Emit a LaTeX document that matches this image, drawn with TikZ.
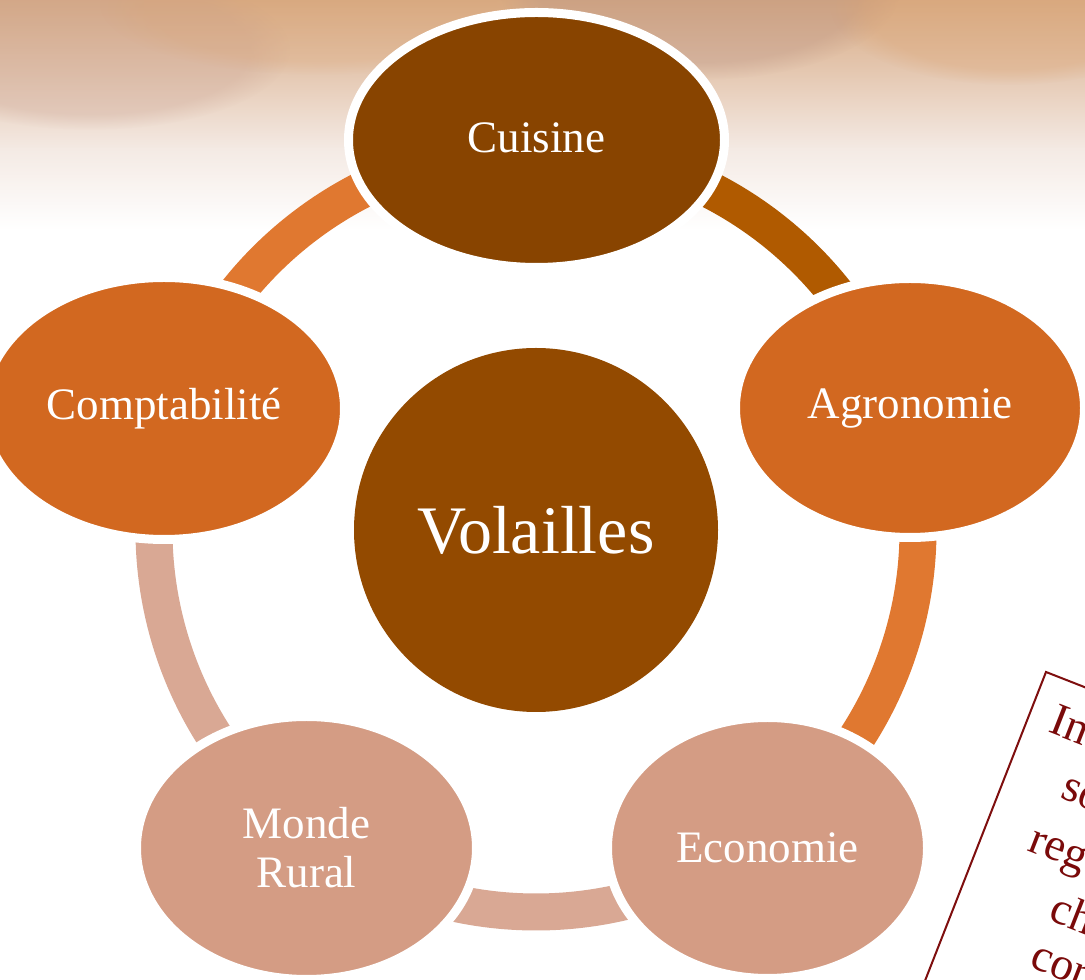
\documentclass[tikz,border=0pt]{standalone}
\usepackage{fontspec}
\setmainfont{Liberation Serif}
\usetikzlibrary{shapes.geometric,fadings}
\definecolor{bgA}{HTML}{D8AB84}
\definecolor{bgB}{HTML}{E6CBB6}
\definecolor{bgC}{HTML}{F4EAE4}
\definecolor{bgD}{HTML}{B89080}
\definecolor{bgE}{HTML}{C8A090}
\definecolor{bgF}{HTML}{DBA474}
\definecolor{cuisC}{HTML}{884400}
\definecolor{volC}{HTML}{934A00}
\definecolor{orC}{HTML}{D26820}
\definecolor{paleC}{HTML}{D49C84}
\definecolor{arcA}{HTML}{B05A00}
\definecolor{arcB}{HTML}{E07830}
\definecolor{arcC}{HTML}{D9A894}
\definecolor{boxred}{HTML}{7E0E0E}
\definecolor{txtred}{HTML}{7A0A0A}
\tikzset{
  bubble/.style={ellipse, draw=white, line width=9pt, inner sep=0pt, text=white,
    font=\fontsize{45}{49}\selectfont, align=center},
  ringarc/.style={line width=37pt},
  boxtext/.style={anchor=base west, text=txtred, font=\fontsize{46}{50}\selectfont, transform shape, inner sep=0pt},
  blob/.style={path fading=circle with fuzzy edge 20 percent},
}
\begin{document}
\begin{tikzpicture}[x=1pt,y=1pt]
\useasboundingbox (0,0) rectangle (1085,980);
\clip (0,0) rectangle (1085,980);
\fill[white] (0,0) rectangle (1085,980);
% blurred photo strip at the top
\shade[top color=bgA, bottom color=bgB] (0,981) rectangle (1085,900);
\shade[top color=bgB, bottom color=bgC] (0,901) rectangle (1085,830);
\shade[top color=bgC, bottom color=white] (0,831) rectangle (1085,750);
\fill[bgD, blob, opacity=0.35] (700,990) ellipse (200 and 90);
\fill[bgE, blob, opacity=0.3] (90,930) ellipse (200 and 80);
\fill[bgF, blob, opacity=0.35] (1010,975) ellipse (180 and 80);
\fill[bgF, blob, opacity=0.25] (320,975) ellipse (220 and 70);

% centre
\node[circle, fill=volC, minimum size=364, inner sep=0pt, text=white,
      font=\fontsize{68}{80}\selectfont] (vol) at (536,450) {Volailles};

% ring segments
\draw[ringarc, arcA] ([shift={(18:382)}]vol.center) arc[start angle=18, end angle=90, radius=382];
\draw[ringarc, arcB] ([shift={(90:382)}]vol.center) arc[start angle=90, end angle=162, radius=382];
\draw[ringarc, arcC] ([shift={(162:382)}]vol.center) arc[start angle=162, end angle=234, radius=382];
\draw[ringarc, arcC] ([shift={(234:382)}]vol.center) arc[start angle=234, end angle=306, radius=382];
\draw[ringarc, arcB] ([shift={(306:382)}]vol.center) arc[start angle=306, end angle=378, radius=382];

% outer bubbles
\node[bubble, fill=cuisC, minimum width=376, minimum height=255] (cuisine) at (536.5,840) {\raisebox{5pt}{Cuisine}};
\node[bubble, fill=orC, minimum width=349, minimum height=259] (agro) at (910,572) {Agronomie};
\node[bubble, fill=orC, minimum width=361, minimum height=262] (compta) at (164,571.5) {Comptabilité};
\node[bubble, fill=paleC, minimum width=320, minimum height=261] (eco) at (767.5,132) {Economie};
\node[bubble, fill=paleC, minimum width=340, minimum height=263] (monde) at (306.5,132) {Monde\\Rural};

% rotated text box
\begin{scope}[shift={(1046,308)}, rotate=-21.4]
  \draw[boxred, line width=2pt] (0,0) rectangle (400,-500);
  \node[boxtext] (t1) at (23,-55) {In};
  \node[boxtext] (t2) at (58,-112) {so};
  \node[boxtext] (t3) at (47,-173) {reg};
  \node[boxtext] (t4) at (92,-230) {ch};
  \node[boxtext] (t5) at (91,-281) {corr};
\end{scope}
\end{tikzpicture}
\end{document}
